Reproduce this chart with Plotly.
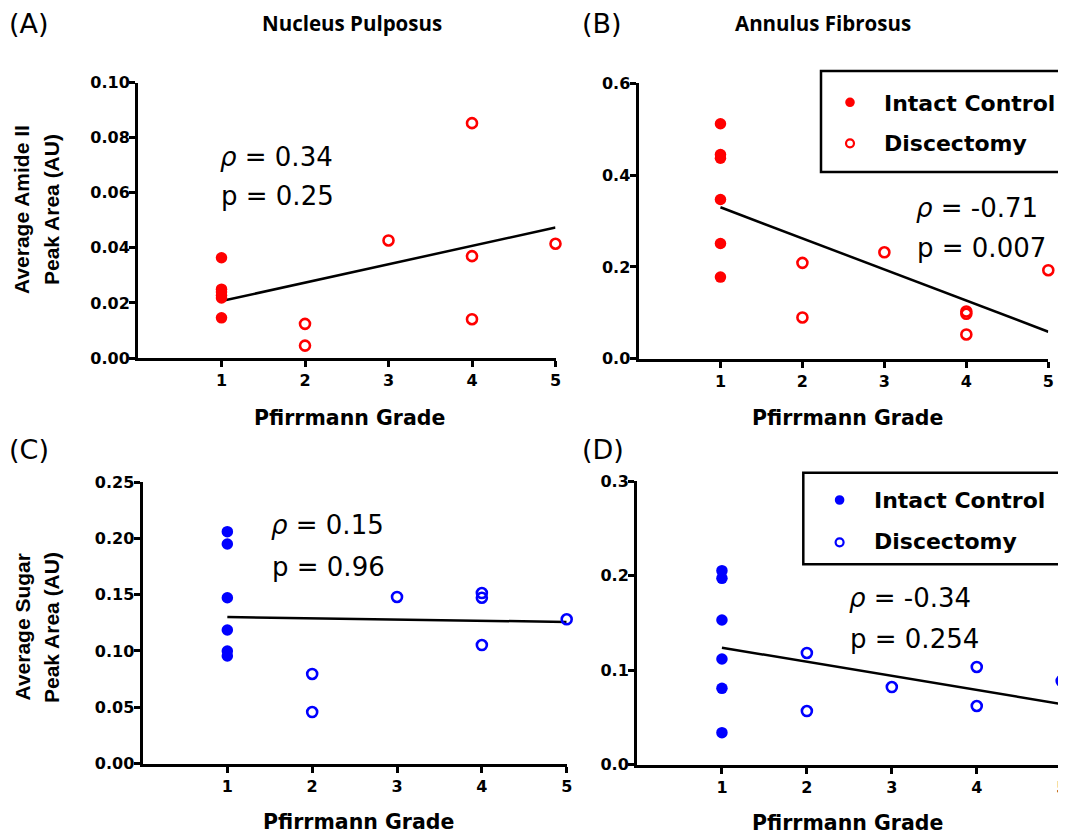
import plotly.graph_objects as go

# page body has an 8px default margin: figure is placed at (8, 8)
OX, OY = 8, 8
W, H = 1066 - OX, 835 - OY

# ---------------- data ----------------
grades_ticks = [1, 2, 3, 4, 5]

# Panel A: Nucleus Pulposus, Amide II
a_ctrl_x = [1, 1, 1, 1, 1, 1]
a_ctrl_y = [0.0364, 0.0250, 0.0240, 0.0228, 0.0218, 0.0146]
a_disc_x = [2, 2, 3, 4, 4, 4, 5]
a_disc_y = [0.0124, 0.0045, 0.0427, 0.0853, 0.0370, 0.0141, 0.0415]
a_fit_x = [1, 5]
a_fit_y = [0.0207, 0.0474]

# Panel B: Annulus Fibrosus, Amide II
b_ctrl_x = [1, 1, 1, 1, 1, 1]
b_ctrl_y = [0.512, 0.445, 0.437, 0.347, 0.251, 0.178]
b_disc_x = [2, 2, 3, 4, 4, 4, 5]
b_disc_y = [0.209, 0.090, 0.232, 0.103, 0.098, 0.053, 0.193]
b_fit_x = [1, 5]
b_fit_y = [0.330, 0.059]

# Panel C: Nucleus Pulposus, Sugar
c_ctrl_x = [1, 1, 1, 1, 1, 1]
c_ctrl_y = [0.2059, 0.1949, 0.1472, 0.1186, 0.0999, 0.0955]
c_disc_x = [2, 2, 3, 4, 4, 4, 5]
c_disc_y = [0.0795, 0.0457, 0.1479, 0.1514, 0.1472, 0.1052, 0.1281]
c_fit_x = [1, 5]
c_fit_y = [0.1301, 0.1257]

# Panel D: Annulus Fibrosus, Sugar
d_ctrl_x = [1, 1, 1, 1, 1, 1]
d_ctrl_y = [0.2051, 0.1970, 0.1529, 0.1116, 0.0806, 0.0337]
d_disc_x = [2, 2, 3, 4, 4, 5]
d_disc_y = [0.1180, 0.0566, 0.0820, 0.1032, 0.0619, 0.0884]
d_fit_x = [1, 5]
d_fit_y = [0.1236, 0.0640]

panel_labels = ["(A)", "(B)", "(C)", "(D)"]
col_titles = ["Nucleus Pulposus", "Annulus Fibrosus"]
stats_rho = ["<i>ρ</i> = 0.34", "<i>ρ</i> = -0.71", "<i>ρ</i> = 0.15", "<i>ρ</i> = -0.34"]
stats_p = ["p = 0.25", "p = 0.007", "p = 0.96", "p = 0.254"]
legend_names = ["Intact Control", "Discectomy"]
x_title = "Pfirrmann Grade"
y_titles_top = ["Average Amide II", "Peak Area (AU)"]
y_titles_bot = ["Average Sugar", "Peak Area (AU)"]

RED = "rgb(255,0,0)"
BLUE = "rgb(0,0,255)"


def px(x):
    return (x - OX) / W


def py(y):
    return 1 - (y - OY) / H


fig = go.Figure()

panels = [
    (a_ctrl_x, a_ctrl_y, a_disc_x, a_disc_y, a_fit_x, a_fit_y, RED, (138, 555.5), (82.7, 358), 0.10, 0.02, ".2f"),
    (b_ctrl_x, b_ctrl_y, b_disc_x, b_disc_y, b_fit_x, b_fit_y, RED, (638.5, 1048.3), (83.3, 358.8), 0.6, 0.2, ".1f"),
    (c_ctrl_x, c_ctrl_y, c_disc_x, c_disc_y, c_fit_x, c_fit_y, BLUE, (142.5, 566.7), (482, 763.5), 0.25, 0.05, ".2f"),
    (d_ctrl_x, d_ctrl_y, d_disc_x, d_disc_y, d_fit_x, d_fit_y, BLUE, (637, 1061.7), (481, 764.5), 0.3, 0.1, ".1f"),
]

tickfont = dict(family="DejaVu Sans", size=16, color="black", weight="bold")

for i, (cx, cy, dx, dy, fx, fy, col, xd, yd, ymax, dt, fmt) in enumerate(panels):
    n = "" if i == 0 else str(i + 1)
    xa, ya = "x" + n, "y" + n
    fig.add_trace(go.Scatter(x=fx, y=fy, mode="lines", line=dict(color="black", width=2.5),
                             xaxis=xa, yaxis=ya, showlegend=False, hoverinfo="skip"))
    fig.add_trace(go.Scatter(x=cx, y=cy, mode="markers", name=legend_names[0],
                             marker=dict(symbol="circle", size=11.5, color=col, line=dict(width=0)),
                             xaxis=xa, yaxis=ya, showlegend=False, cliponaxis=False))
    fig.add_trace(go.Scatter(x=dx, y=dy, mode="markers", name=legend_names[1],
                             marker=dict(symbol="circle-open", size=10, color=col, line=dict(width=2.6, color=col)),
                             xaxis=xa, yaxis=ya, showlegend=False, cliponaxis=False))
    common = dict(showgrid=False, zeroline=False, showline=True, linecolor="black", linewidth=3,
                  ticks="outside", ticklen=6, tickwidth=3, tickcolor="black", tickfont=tickfont,
                  ticklabeloverflow="allow")
    fig.update_layout(**{
        "xaxis" + n: dict(domain=[px(xd[0]), px(xd[1])], range=[0, 5], tickvals=grades_ticks,
                          anchor=ya, **common),
        "yaxis" + n: dict(domain=[py(yd[1]), py(yd[0])], range=[0, ymax], dtick=dt, tick0=0,
                          tickformat=fmt, anchor=xa, ticklabelstandoff=-4, **common),
    })

ann = []


def add_text(text, x, y, size, family="DejaVu Sans", weight="normal", xanchor="left", angle=0):
    ann.append(dict(text=text, x=px(x), y=py(y), xref="paper", yref="paper", showarrow=False,
                    xanchor=xanchor, yanchor="middle", textangle=angle,
                    font=dict(family=family, size=size, color="black", weight=weight)))


# panel labels
add_text(panel_labels[0], 7, 24, 27)
add_text(panel_labels[1], 580, 24, 27)
add_text(panel_labels[2], 7, 449, 27)
add_text(panel_labels[3], 580, 449, 27)

# column titles
add_text(col_titles[0], 352, 22.5, 20.5, family="Open Sans", weight="bold", xanchor="center")
add_text(col_titles[1], 823, 22.5, 20.5, family="Open Sans", weight="bold", xanchor="center")

# statistics
stat_pos = [(218, 156.7, 196.2), (914, 207.5, 247.5), (268.5, 525, 566.7), (847, 598.3, 639.2)]
for i, (sx, y1, y2) in enumerate(stat_pos):
    add_text(stats_rho[i], sx, y1, 26)
    add_text(stats_p[i], sx + 1, y2, 26)

# x axis titles
for (cx, cy) in [(349, 418.3), (847, 418.3), (358.6, 822), (847.8, 823)]:
    add_text(x_title, cx, cy, 20.5, weight="bold", xanchor="center")

# y axis titles (two lines each)
add_text(y_titles_top[0], 21, 210, 21, family="Liberation Sans", weight="bold", xanchor="center", angle=-90)
add_text(y_titles_top[1], 51, 210, 21, family="Liberation Sans", weight="bold", xanchor="center", angle=-90)
add_text(y_titles_bot[0], 22, 627.5, 21, family="Liberation Sans", weight="bold", xanchor="center", angle=-90)
add_text(y_titles_bot[1], 51.5, 627.5, 21, family="Liberation Sans", weight="bold", xanchor="center", angle=-90)

shapes = []
legends = [
    (RED, 821, 71, 172, 850, (102.3, 143.3), 882, (103.3, 143.3)),
    (BLUE, 803.3, 472.7, 564.3, 839.6, (500, 542.3), 872, (500, 541.7)),
]
for col, lx, ty, by, mx, mys, tx, tys in legends:
    shapes.append(dict(type="rect", xref="paper", yref="paper", x0=px(lx), x1=px(1090), y0=py(by), y1=py(ty),
                       line=dict(color="black", width=2.5), fillcolor="rgba(0,0,0,0)", layer="above"))
    shapes.append(dict(type="circle", xref="paper", yref="paper", xsizemode="pixel", ysizemode="pixel",
                       xanchor=px(mx), yanchor=py(mys[0]), x0=-4.8, x1=4.8, y0=-4.8, y1=4.8,
                       fillcolor=col, line=dict(width=0)))
    shapes.append(dict(type="circle", xref="paper", yref="paper", xsizemode="pixel", ysizemode="pixel",
                       xanchor=px(mx), yanchor=py(mys[1]), x0=-4, x1=4, y0=-4, y1=4,
                       fillcolor="white", line=dict(width=2.2, color=col)))
    add_text(legend_names[0], tx, tys[0], 22, weight="bold")
    add_text(legend_names[1], tx, tys[1], 22, weight="bold")

fig.update_layout(
    width=W, height=H,
    margin=dict(l=0, r=0, t=0, b=0, pad=0, autoexpand=False),
    paper_bgcolor="white", plot_bgcolor="white",
    annotations=ann, shapes=shapes, showlegend=False,
)

fig.write_html("out.html")
